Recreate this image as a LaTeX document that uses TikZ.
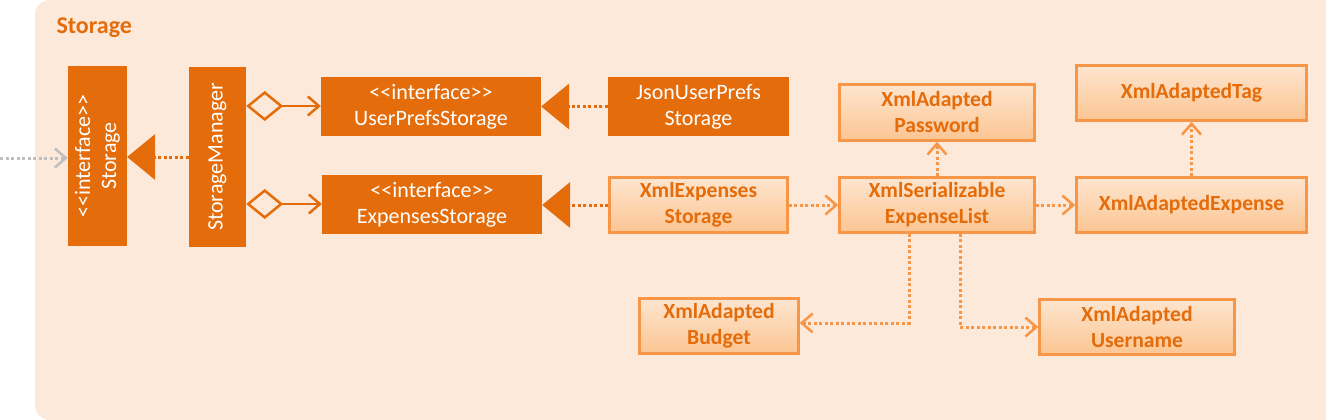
\documentclass[tikz,border=0pt]{standalone}
\usepackage{fontspec}
\setmainfont{Carlito}
\usetikzlibrary{arrows.meta}
\definecolor{dorange}{HTML}{E46C0A}
\definecolor{lorange}{HTML}{F79646}
\definecolor{bgorange}{HTML}{FDE9DA}
\definecolor{ltop}{HTML}{FDE5CF}
\definecolor{lbot}{HTML}{FCC592}
\definecolor{grayline}{HTML}{BFBFBF}
\newcommand{\intf}{<\kern0pt<interface>\kern0pt>}
\tikzset{
  darkbox/.style={fill=dorange, draw=none, text=white, align=center, inner sep=0pt, font=\fontsize{22}{26}\selectfont},
  lightbox/.style={top color=ltop, bottom color=lbot, draw=lorange, line width=2.5pt, text=dorange, align=center, inner sep=0pt, font=\fontsize{21.6}{26}\selectfont\bfseries},
  dotline/.style={line width=3pt, dash pattern=on 3pt off 2.5pt},
  openhead/.style={-{Straight Barb[length=11pt,width=19pt,line width=2.5pt]}},
  realize/.style={dotline, draw=dorange, -{Triangle[length=28pt,width=46pt,fill=dorange,line width=0pt]}},
  depend/.style={dotline, draw=lorange, openhead},
  aggreg/.style={line width=2.5pt, draw=dorange, {Diamond[open,length=37pt,width=30pt,line width=2.5pt]}-{Straight Barb[length=11pt,width=19pt,line width=2.5pt]}},
}
\begin{document}
\begin{tikzpicture}[x=1pt,y=-1pt]
\useasboundingbox (0,0) rectangle (1326,420);
\fill[bgorange, rounded corners=15pt] (35,0) rectangle (1340,420);
\node[anchor=west, text=dorange, font=\fontsize{24}{28}\selectfont\bfseries] (title) at (53,28) {Storage};

\node[darkbox, rotate=90, minimum width=180pt, minimum height=59pt] (st) at (97.5,156) {\intf\\Storage};
\node[darkbox, rotate=90, minimum width=180pt, minimum height=57pt] (sm) at (217.5,157) {StorageManager};
\node[darkbox, minimum width=220pt, minimum height=59pt] (ups) at (431,106.5) {\intf\\UserPrefsStorage};
\node[darkbox, minimum width=181pt, minimum height=59pt] (jups) at (698.5,106.5) {JsonUserPrefs\\Storage};
\node[darkbox, minimum width=220pt, minimum height=59pt] (es) at (432,204.5) {\intf\\ExpensesStorage};

\node[lightbox, minimum width=178pt, minimum height=55pt] (xes) at (698.5,205) {XmlExpenses\\Storage};
\node[lightbox, minimum width=195pt, minimum height=56pt] (xpw) at (937,112.5) {XmlAdapted\\Password};
\node[lightbox, minimum width=195pt, minimum height=55pt] (xsel) at (937,205) {XmlSerializable\\ExpenseList};
\node[lightbox, minimum width=230pt, minimum height=55pt] (xtag) at (1191.5,93) {XmlAdaptedTag};
\node[lightbox, minimum width=230pt, minimum height=55pt] (xexp) at (1191.5,205) {XmlAdaptedExpense};
\node[lightbox, minimum width=159pt, minimum height=55pt] (xbud) at (719,326) {XmlAdapted\\Budget};
\node[lightbox, minimum width=195pt, minimum height=55pt] (xusr) at (1137,327) {XmlAdapted\\Username};

\coordinate (ext) at (0,158);
\draw[dotline, draw=grayline, openhead] (ext) -- (st.north |- ext);

\draw[realize] (sm.north |- 0,157) -- (st.south |- 0,157);
\draw[aggreg] (sm.south |- 0,106) -- (ups.west |- 0,106);
\draw[aggreg] (sm.south |- 0,204) -- (es.west |- 0,204);
\draw[realize] (jups.west) -- (ups.east);
\draw[realize] (xes.west) -- (es.east |- xes.west);
\draw[depend] (xes.east) -- (xsel.west);
\draw[depend] (xsel.north) -- (xpw.south);
\draw[depend] (xsel.east) -- (xexp.west);
\draw[depend] (xexp.north) -- (xtag.south);
\draw[depend] (xsel.south -| 909,0) |- (xbud.east |- 0,323);
\draw[depend] (xsel.south -| 960,0) |- (xusr.west |- 0,327);
\end{tikzpicture}
\end{document}
